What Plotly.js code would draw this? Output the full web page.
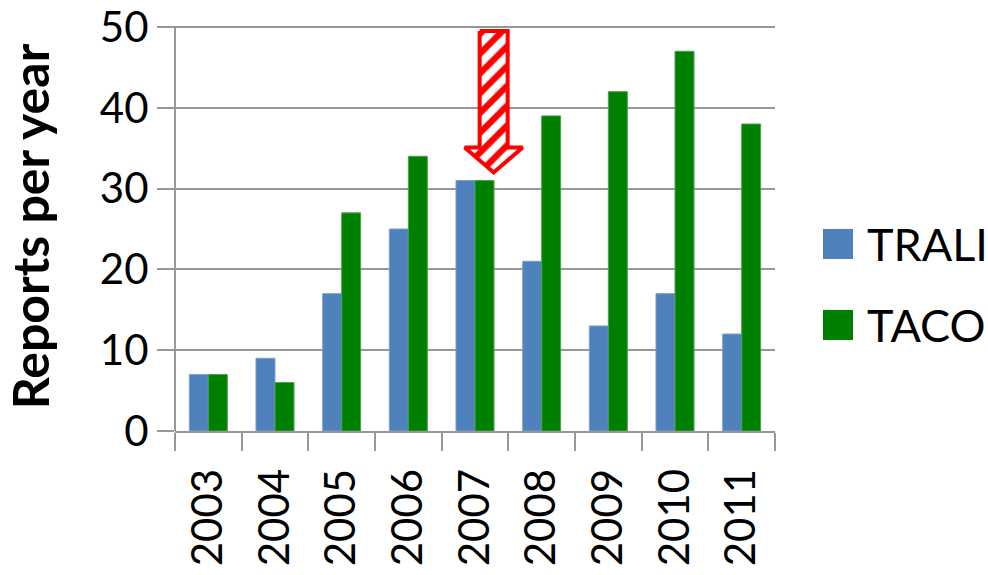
<!DOCTYPE html>
<html>
<head>
<meta charset="utf-8">
<script src="https://cdn.plot.ly/plotly-3.0.1.min.js"></script>
<style>html,body{margin:0;padding:0;background:#fff;}#chart{width:988px;height:575px;}</style>
</head>
<body>
<div id="chart"></div>
<script>
// ---- data ----
var years = ['2003','2004','2005','2006','2007','2008','2009','2010','2011'];
var trali = [7, 9, 17, 25, 31, 21, 13, 17, 12];
var taco  = [7, 6, 27, 34, 31, 39, 42, 47, 38];
var seriesNames = ['TRALI', 'TACO'];
var seriesColors = ['#4F81BD', '#008000'];
var yTicks = [0, 10, 20, 30, 40, 50];
var yTitle = 'Reports per year';
// arrow annotation: points at the 2007 peak
var arrowYear = '2007';
var arrowTipValue = 32;
var arrowTopValue = 49.5;

// arrow polygon in data units (category index axis)
var ai = years.indexOf(arrowYear) + 0.28;
var shaftHalf = 0.21, headHalf = 0.435, headLen = 3.1;
var shaftBottom = arrowTipValue + headLen;
var arrowX = [ai - shaftHalf, ai + shaftHalf, ai + shaftHalf, ai + headHalf, ai, ai - headHalf, ai - shaftHalf, ai - shaftHalf];
var arrowY = [arrowTopValue, arrowTopValue, shaftBottom, shaftBottom, arrowTipValue, shaftBottom, shaftBottom, arrowTopValue];

var FONT = 'Lato, Open Sans, sans-serif';
var GRID = '#979797';
var TICKSIZE = 42;
var yTop = yTicks[yTicks.length - 1];

var traces = [
  {type: 'bar', name: seriesNames[0], x: years, y: trali,
   marker: {color: seriesColors[0], line: {color: '#7a9fd0', width: 1}}, showlegend: false, hoverinfo: 'x+y'},
  {type: 'bar', name: seriesNames[1], x: years, y: taco,
   marker: {color: seriesColors[1], line: {color: '#4fa04f', width: 1}}, showlegend: false, hoverinfo: 'x+y'},
  {type: 'scatter', mode: 'lines', x: arrowX, y: arrowY, xaxis: 'x2', yaxis: 'y',
   fill: 'toself', fillcolor: 'white',
   fillpattern: {shape: '/', fgcolor: '#ff0000', bgcolor: '#ffffff', size: 14, solidity: 0.45},
   line: {color: '#ff0000', width: 4}, showlegend: false, hoverinfo: 'skip', cliponaxis: false}
];

// top gridline and the vertical axis line, drawn so they stop at the top tick
var shapes = [
  {type: 'line', xref: 'paper', yref: 'y', x0: -0.03, x1: 1, y0: yTop, y1: yTop,
   line: {color: GRID, width: 2}, layer: 'above'},
  {type: 'line', xref: 'paper', yref: 'y', x0: 0, x1: 0, y0: 0, y1: yTop,
   line: {color: GRID, width: 2}, layer: 'above'}
];
var annotations = [];
var legendY = [[0.494, 0.4205], [0.296, 0.2225]];
for (var i = 0; i < seriesNames.length; i++) {
  shapes.push({type: 'rect', xref: 'paper', yref: 'paper', x0: 1.08, x1: 1.13,
    y0: legendY[i][1], y1: legendY[i][0], fillcolor: seriesColors[i], line: {width: 0}});
  annotations.push({xref: 'paper', yref: 'paper', x: 1.15, y: (legendY[i][0] + legendY[i][1]) / 2,
    xanchor: 'left', yanchor: 'middle', text: seriesNames[i], showarrow: false,
    font: {family: FONT, size: 45, color: '#000'}});
}

var layout = {
  width: 988, height: 575,
  margin: {l: 175, r: 213, t: 22, b: 144},
  paper_bgcolor: '#fff', plot_bgcolor: '#fff',
  barmode: 'group', bargap: 0.43, bargroupgap: 0,
  showlegend: false,
  font: {family: FONT, color: '#000'},
  xaxis: {type: 'category', categoryarray: years, tickangle: -90,
    showline: true, linecolor: GRID, linewidth: 2, showgrid: false,
    ticks: 'outside', tickson: 'boundaries', ticklen: 18, tickcolor: GRID, tickwidth: 2,
    ticklabelstandoff: 19,
    tickfont: {family: FONT, size: TICKSIZE, color: '#000'}, automargin: false, zeroline: false},
  xaxis2: {overlaying: 'x', range: [-0.5, years.length - 0.5], visible: false, fixedrange: true},
  yaxis: {range: [0, 50.62], tickvals: yTicks, ticktext: yTicks.map(String),
    showline: false,
    showgrid: true, gridcolor: GRID, gridwidth: 2, zeroline: false,
    ticks: 'outside', ticklen: 17, tickcolor: GRID, tickwidth: 2,
    ticklabeloverflow: 'allow',
    tickfont: {family: FONT, size: TICKSIZE, color: '#000'}, automargin: false,
    title: {text: '<b>' + yTitle + '</b>', font: {family: FONT, size: 50, color: '#000'}, standoff: 36}},
  shapes: shapes,
  annotations: annotations
};

Plotly.newPlot('chart', traces, layout, {displayModeBar: false, staticPlot: true});
</script>
</body>
</html>
